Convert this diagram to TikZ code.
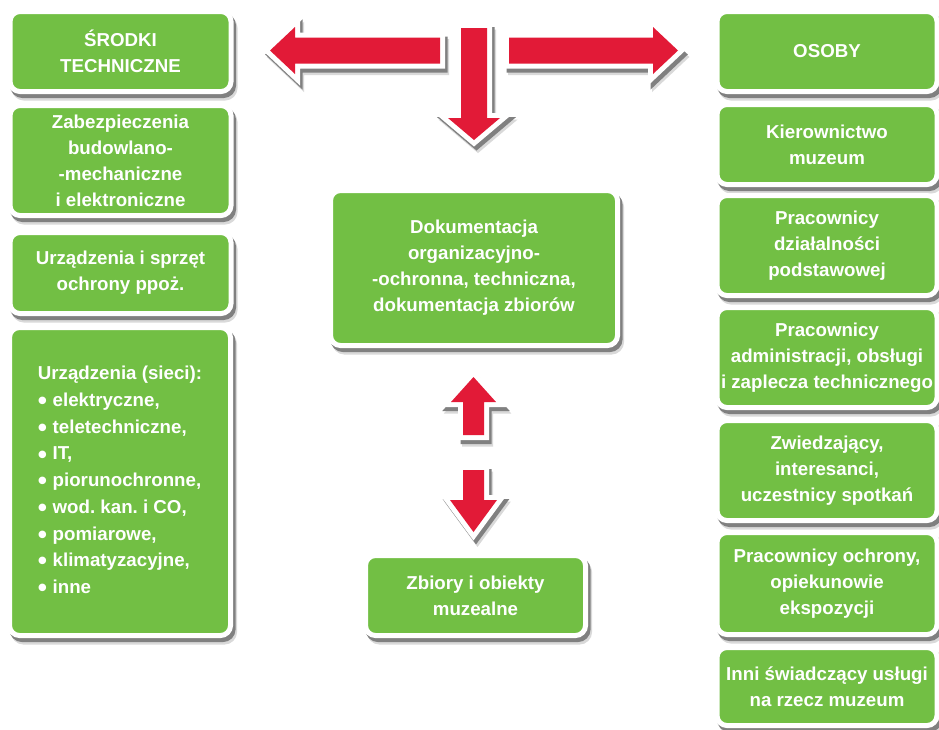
\documentclass[tikz,border=0pt]{standalone}
\usepackage{fontspec}
\setmainfont{Liberation Sans}
\usepackage{graphicx}
\definecolor{boxgreen}{RGB}{114,191,68}
\definecolor{arrred}{RGB}{226,26,55}
\newcommand\blt{\raisebox{-0.17em}{\scalebox{1.4}{•}}\hspace{0.3em}}
\frenchspacing
\begin{document}
\begin{tikzpicture}[x=1pt,y=-1pt,
  shd/.style={
    preaction={fill=black!15, draw=black!15, line width=#1, transform canvas={xshift=4pt,yshift=-6.5pt}},
    preaction={fill=black!50, draw=black!50, line width=#1, transform canvas={xshift=2.5pt,yshift=-4pt}}},
  box/.style={shd=5pt, fill=boxgreen, draw=white, line width=5pt, rounded corners=10pt,
    inner sep=0pt, text=white, font=\fontsize{18.7}{26}\selectfont\bfseries, align=center},
  lbox/.style={box, minimum width=221pt},
  rbox/.style={box, minimum width=220pt},
  arr/.style={line join=miter, shd=10pt, preaction={draw=white, line width=10pt}, fill=arrred}
]
\useasboundingbox (0,0) rectangle (939,729);
\fill[white] (0,0) rectangle (939,729);

% left column
\node[lbox, minimum height=80pt] (srodki) at (120.5,51.5) {ŚRODKI\\TECHNICZNE};
\node[lbox, minimum height=110pt] (zabezp) at (120.5,160.5) {Zabezpieczenia\\budowlano-\\-mechaniczne\\i elektroniczne};
\node[lbox, minimum height=81pt] (urzadz) at (120.5,273) {Urządzenia i sprzęt\\ochrony ppoż.};
\node[lbox, minimum height=308pt, align=left, font=\fontsize{18.7}{26.7}\selectfont\bfseries] (sieci) at (120,481.5)
  {Urządzenia (sieci):\\\blt elektryczne,\\\blt teletechniczne,\\\blt IT,\\\blt piorunochronne,\\\blt wod. kan. i CO,\\\blt pomiarowe,\\\blt klimatyzacyjne,\\\blt inne};

% right column
\node[rbox, minimum height=80pt] (osoby) at (827,51.5) {OSOBY};
\node[rbox, minimum height=80pt] (kier) at (827,144.5) {Kierownictwo\\muzeum};
\node[rbox, minimum height=100pt] (dzial) at (827,245.5) {Pracownicy\\działalności\\podstawowej};
\node[rbox, minimum height=100pt] (admin) at (827,357.5) {Pracownicy\\administracji, obsługi\\i zaplecza technicznego};
\node[rbox, minimum height=100pt] (zwiedz) at (827,470.5) {Zwiedzający,\\interesanci,\\uczestnicy spotkań};
\node[rbox, minimum height=102pt] (ochr) at (827,583.5) {Pracownicy ochrony,\\opiekunowie\\ekspozycji};
\node[rbox, minimum height=78pt] (inni) at (827,686.5) {Inni świadczący usługi\\na rzecz muzeum};

% centre
\node[box, minimum width=287pt, minimum height=155pt] (dok) at (474,268) {Dokumentacja\\organizacyjno-\\-ochronna, techniczna,\\dokumentacja zbiorów};
\node[box, minimum width=220pt, minimum height=80pt] (zbiory) at (475.5,595.5) {Zbiory i obiekty\\muzealne};

% block arrows
\path[arr] (440,37.5) -- (295,37.5) -- (295,27) -- (270,50.5) -- (295,74) -- (295,63.5) -- (440,63.5) -- cycle;
\path[arr] (509,37.5) -- (653,37.5) -- (653,27) -- (678,50.5) -- (653,74) -- (653,63.5) -- (509,63.5) -- cycle;
\path[arr] (461,28) -- (487,28) -- (487,118) -- (500,118) -- (474,140) -- (448,118) -- (461,118) -- cycle;
\path[arr] (463,435) -- (463,402) -- (451,402) -- (473.5,377) -- (496,402) -- (484,402) -- (484,435) -- cycle;
\path[arr] (463,470) -- (484,470) -- (484,500) -- (497,500) -- (473.5,532) -- (450,500) -- (463,500) -- cycle;
\end{tikzpicture}
\end{document}
